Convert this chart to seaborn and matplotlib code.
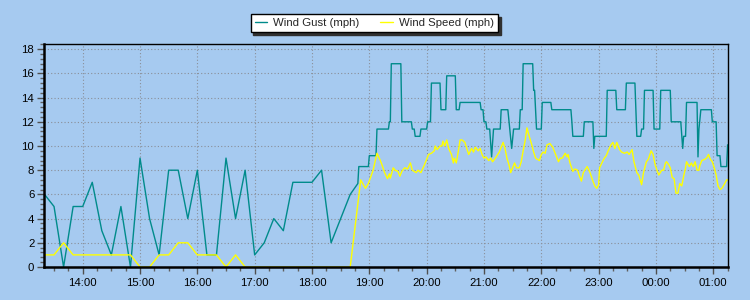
import numpy as np
import pandas as pd
import matplotlib
matplotlib.use("Agg")
import matplotlib.pyplot as plt
import matplotlib.dates as mdates
from matplotlib.ticker import MultipleLocator
from matplotlib.lines import Line2D
import seaborn as sns

# ---------------- data ----------------
gust_times = [
    "13:20", "13:30", "13:40", "13:50", "14:00", "14:10", "14:20", "14:30", "14:40", "14:50",
    "15:00", "15:10", "15:20", "15:30", "15:40", "15:50", "16:00", "16:10", "16:20", "16:30",
    "16:40", "16:50", "17:00", "17:10", "17:20", "17:30", "17:40", "17:50", "18:00", "18:10",
    "18:20", "18:30", "18:40", "18:48", "18:49", "18:59", "19:00", "19:07", "19:08", "19:20",
    "19:21", "19:22", "19:23", "19:33", "19:34", "19:44", "19:45", "19:47", "19:48", "19:53",
    "19:54", "20:00", "20:01", "20:04", "20:05", "20:14", "20:15", "20:20", "20:21", "20:30",
    "20:31", "20:34", "20:35", "20:56", "20:57", "20:59", "21:00", "21:02", "21:03", "21:06",
    "21:08", "21:10", "21:17", "21:18", "21:25", "21:27", "21:29", "21:31", "21:37", "21:38",
    "21:40", "21:41", "21:51", "21:52", "21:53", "21:55", "22:00", "22:01", "22:10", "22:11",
    "22:31", "22:32", "22:33", "22:44", "22:45", "22:54", "22:55", "22:56", "23:08", "23:09",
    "23:18", "23:19", "23:28", "23:29", "23:38", "23:40", "23:44", "23:45", "23:47", "23:48",
    "23:57", "23:58", "00:04", "00:05", "00:15", "00:16", "00:26", "00:28", "00:29", "00:31",
    "00:32", "00:43", "00:44", "00:45", "00:47", "00:58", "00:59", "01:03", "01:04", "01:07",
    "01:08", "01:14", "01:15",
]
gust_mph = [
    6, 5, 0, 5, 5, 7, 3, 1, 5, 0,
    9, 4, 1, 8, 8, 4, 8, 1, 1, 9,
    4, 8, 1, 2, 4, 3, 7, 7, 7, 8,
    2, 4, 6, 6.9, 8.3, 8.3, 9.2, 9.2, 11.4, 11.4,
    12.0, 12.0, 16.8, 16.8, 12.0, 12.0, 11.4, 11.4, 10.8, 10.8,
    11.4, 11.4, 12.0, 12.0, 15.2, 15.2, 13.0, 13.0, 15.8, 15.8,
    13.0, 13.0, 13.6, 13.6, 13.0, 13.0, 12.0, 12.0, 11.4, 11.4,
    9.1, 11.4, 11.4, 13.0, 13.0, 11.4, 9.8, 11.4, 11.4, 13.0,
    13.0, 16.8, 16.8, 14.6, 14.6, 11.4, 11.4, 13.6, 13.6, 13.0,
    13.0, 12.0, 10.8, 10.8, 12.0, 12.0, 9.8, 10.8, 10.8, 14.6,
    14.6, 13.0, 13.0, 15.2, 15.2, 10.8, 10.8, 11.4, 11.4, 14.6,
    14.6, 11.4, 11.4, 14.6, 14.6, 12.0, 12.0, 9.8, 10.8, 10.8,
    13.6, 13.6, 9.1, 11.4, 13.0, 13.0, 12.0, 12.0, 9.2, 9.2,
    8.3, 8.3, 10.1,
]

speed_times = [
    "13:20", "13:30", "13:40", "13:50", "14:00", "14:10", "14:20", "14:30", "14:40", "14:50",
    "15:00", "15:10", "15:20", "15:30", "15:40", "15:50", "16:00", "16:10", "16:20", "16:30",
    "16:40", "16:50", "17:00", "17:10", "17:20", "17:30", "17:40", "17:50", "18:00", "18:10",
    "18:20", "18:30", "18:40",
    "18:51", "18:53", "18:56", "18:59", "19:01", "19:04", "19:06", "19:08", "19:11", "19:13",
    "19:16", "19:19", "19:21", "19:22", "19:25", "19:27", "19:30", "19:32", "19:34", "19:37",
    "19:40", "19:43", "19:45", "19:49", "19:51", "19:54", "19:58", "20:02", "20:05", "20:08",
    "20:09", "20:11", "20:14", "20:16", "20:17", "20:19", "20:21", "20:23", "20:26", "20:28",
    "20:29", "20:31", "20:33", "20:35", "20:37", "20:40", "20:42", "20:44", "20:47", "20:49",
    "20:51", "20:54", "20:56", "20:58", "21:00", "21:02", "21:05", "21:07", "21:09", "21:12",
    "21:16", "21:20", "21:22", "21:24", "21:26", "21:28", "21:30", "21:32", "21:34", "21:37",
    "21:39", "21:41", "21:43", "21:45", "21:47", "21:50", "21:52", "21:54", "21:56", "21:58",
    "22:00", "22:02", "22:04", "22:06", "22:09", "22:12", "22:14", "22:18", "22:20", "22:22",
    "22:25", "22:27", "22:28", "22:30", "22:33", "22:35", "22:38", "22:40", "22:42", "22:44",
    "22:48", "22:51", "22:54", "22:56", "22:58", "23:00", "23:01", "23:04", "23:06", "23:08",
    "23:10", "23:13", "23:15", "23:17", "23:19", "23:22", "23:24", "23:27", "23:30", "23:32",
    "23:35", "23:37", "23:40", "23:42", "23:45", "23:47", "23:50", "23:52", "23:55", "23:57",
    "23:59", "00:01", "00:03", "00:06", "00:08", "00:10", "00:11", "00:13", "00:15", "00:17",
    "00:19", "00:21", "00:23", "00:25", "00:27", "00:29", "00:31", "00:32", "00:35", "00:37",
    "00:39", "00:41", "00:43", "00:45", "00:46", "00:48", "00:51", "00:53", "00:55", "00:57",
    "00:59", "01:01", "01:03", "01:05", "01:07", "01:09", "01:12", "01:14", "01:15",
]
speed_mph = [
    1, 1, 2, 1, 1, 1, 1, 1, 1, 1,
    0, 0, 1, 1, 2, 2, 1, 1, 1, 0,
    1, 0, 0, 0, 0, 0, 0, 0, 0, 0,
    0, 0, 0,
    7.2, 6.9, 6.5, 6.9, 7.35, 8.0, 8.7, 9.4, 8.9, 8.5,
    7.8, 7.3, 7.7, 7.35, 8.2, 8.0, 7.9, 7.5, 7.9, 8.2,
    8.1, 8.6, 8.0, 7.8, 8.0, 7.8, 8.5, 9.3, 9.4, 9.6,
    10.0, 9.7, 10.0, 10.0, 10.4, 10.0, 10.5, 9.8, 9.3, 8.6,
    9.0, 8.6, 9.5, 10.5, 10.5, 10.3, 9.8, 9.3, 9.8, 9.5,
    9.9, 9.6, 9.8, 9.3, 9.0, 9.1, 8.8, 9.0, 8.7, 9.0,
    9.5, 10.3, 9.8, 9.0, 8.5, 7.8, 8.2, 8.6, 8.2, 8.2,
    8.7, 9.6, 10.4, 11.5, 10.9, 10.1, 9.5, 9.0, 8.9, 8.8,
    9.3, 9.5, 9.4, 10.1, 10.2, 9.9, 9.5, 8.7, 9.0, 9.0,
    9.4, 9.1, 9.3, 8.6, 7.9, 8.1, 8.0, 7.5, 7.1, 7.8,
    8.3, 7.8, 7.1, 6.7, 6.5, 6.8, 8.2, 8.7, 9.0, 9.2,
    9.6, 10.1, 10.3, 9.8, 10.3, 9.7, 9.5, 9.4, 9.5, 9.3,
    9.7, 8.7, 7.8, 7.6, 6.8, 7.8, 8.7, 8.9, 9.6, 9.3,
    8.5, 8.0, 7.6, 8.0, 8.0, 8.6, 8.7, 8.5, 8.2, 7.4,
    7.3, 6.1, 6.1, 6.9, 6.7, 7.5, 8.2, 8.7, 8.3, 8.6,
    8.3, 8.7, 8.0, 8.0, 8.4, 8.8, 8.9, 9.0, 9.3, 8.9,
    8.7, 8.2, 7.6, 6.7, 6.4, 6.5, 6.9, 7.2, 7.2,
]

series_names = ["Wind Gust (mph)", "Wind Speed (mph)"]
series_colors = ["#008B8B", "#FFFF00"]
x_start, x_end = "13:19:30", "01:15:25"


def to_dt(t):
    parts = [int(p) for p in t.split(":")]
    h, m = parts[0], parts[1]
    s = parts[2] if len(parts) > 2 else 0
    day = 1 if h >= 12 else 2
    return pd.Timestamp(2024, 1, day, h, m, s)


df = pd.concat([
    pd.DataFrame({"time": [to_dt(t) for t in gust_times], "mph": gust_mph,
                  "series": series_names[0]}),
    pd.DataFrame({"time": [to_dt(t) for t in speed_times], "mph": speed_mph,
                  "series": series_names[1]}),
], ignore_index=True)

# ---------------- styling ----------------
BG = "#A6CAF0"
sns.set_style("ticks")
plt.rcParams["font.family"] = ["Liberation Sans", "DejaVu Sans"]

fig = plt.figure(figsize=(7.5, 3.0), dpi=100, facecolor=BG)
ax = fig.add_axes([44 / 750, 33 / 300, 684 / 750, 223 / 300])
ax.set_facecolor(BG)

sns.lineplot(data=df, x="time", y="mph", hue="series",
             palette=dict(zip(series_names, series_colors)),
             estimator=None, sort=False, linewidth=1.0, ax=ax, legend=False)

ax.set_xlim(to_dt(x_start), to_dt(x_end))
ax.set_ylim(0, 18.43)

ax.xaxis.set_major_locator(mdates.HourLocator())
ax.xaxis.set_major_formatter(mdates.DateFormatter("%H:%M"))
ax.xaxis.set_minor_locator(mdates.MinuteLocator(byminute=[15, 30, 45]))
ax.yaxis.set_major_locator(MultipleLocator(2))
ax.yaxis.set_minor_locator(MultipleLocator(0.4))

ax.set_xlabel("")
ax.set_ylabel("")

ax.tick_params(axis="both", which="major", length=5, width=1, color="#505050",
               labelsize=8.2, labelcolor="black")
ax.tick_params(axis="both", which="minor", length=3, width=1, color="#606060")
ax.tick_params(axis="x", which="major", pad=3)
ax.tick_params(axis="y", which="major", pad=2)

ax.grid(True, which="major", color="#8a8f99", linestyle=(0, (1, 2)), linewidth=0.8)
ax.set_axisbelow(True)

for side in ["left", "bottom"]:
    ax.spines[side].set_linewidth(1.8)
    ax.spines[side].set_color("black")
for side in ["top", "right"]:
    ax.spines[side].set_linewidth(1.0)
    ax.spines[side].set_color("black")
    ax.spines[side].set_visible(True)

handles = [Line2D([0], [0], color=c, linewidth=1.0) for c in series_colors]
leg = fig.legend(handles, series_names, loc="center", bbox_to_anchor=(0.499, 0.922),
                 ncol=2, frameon=True, fancybox=False, shadow={"color": "#303030", "alpha": 1.0},
                 edgecolor="black", facecolor="white", fontsize=8.2,
                 handlelength=1.1, handletextpad=0.55, columnspacing=1.8,
                 borderpad=0.35, framealpha=1.0)
leg.get_frame().set_linewidth(1.0)

fig.savefig("out.png", dpi=100, facecolor=BG)
